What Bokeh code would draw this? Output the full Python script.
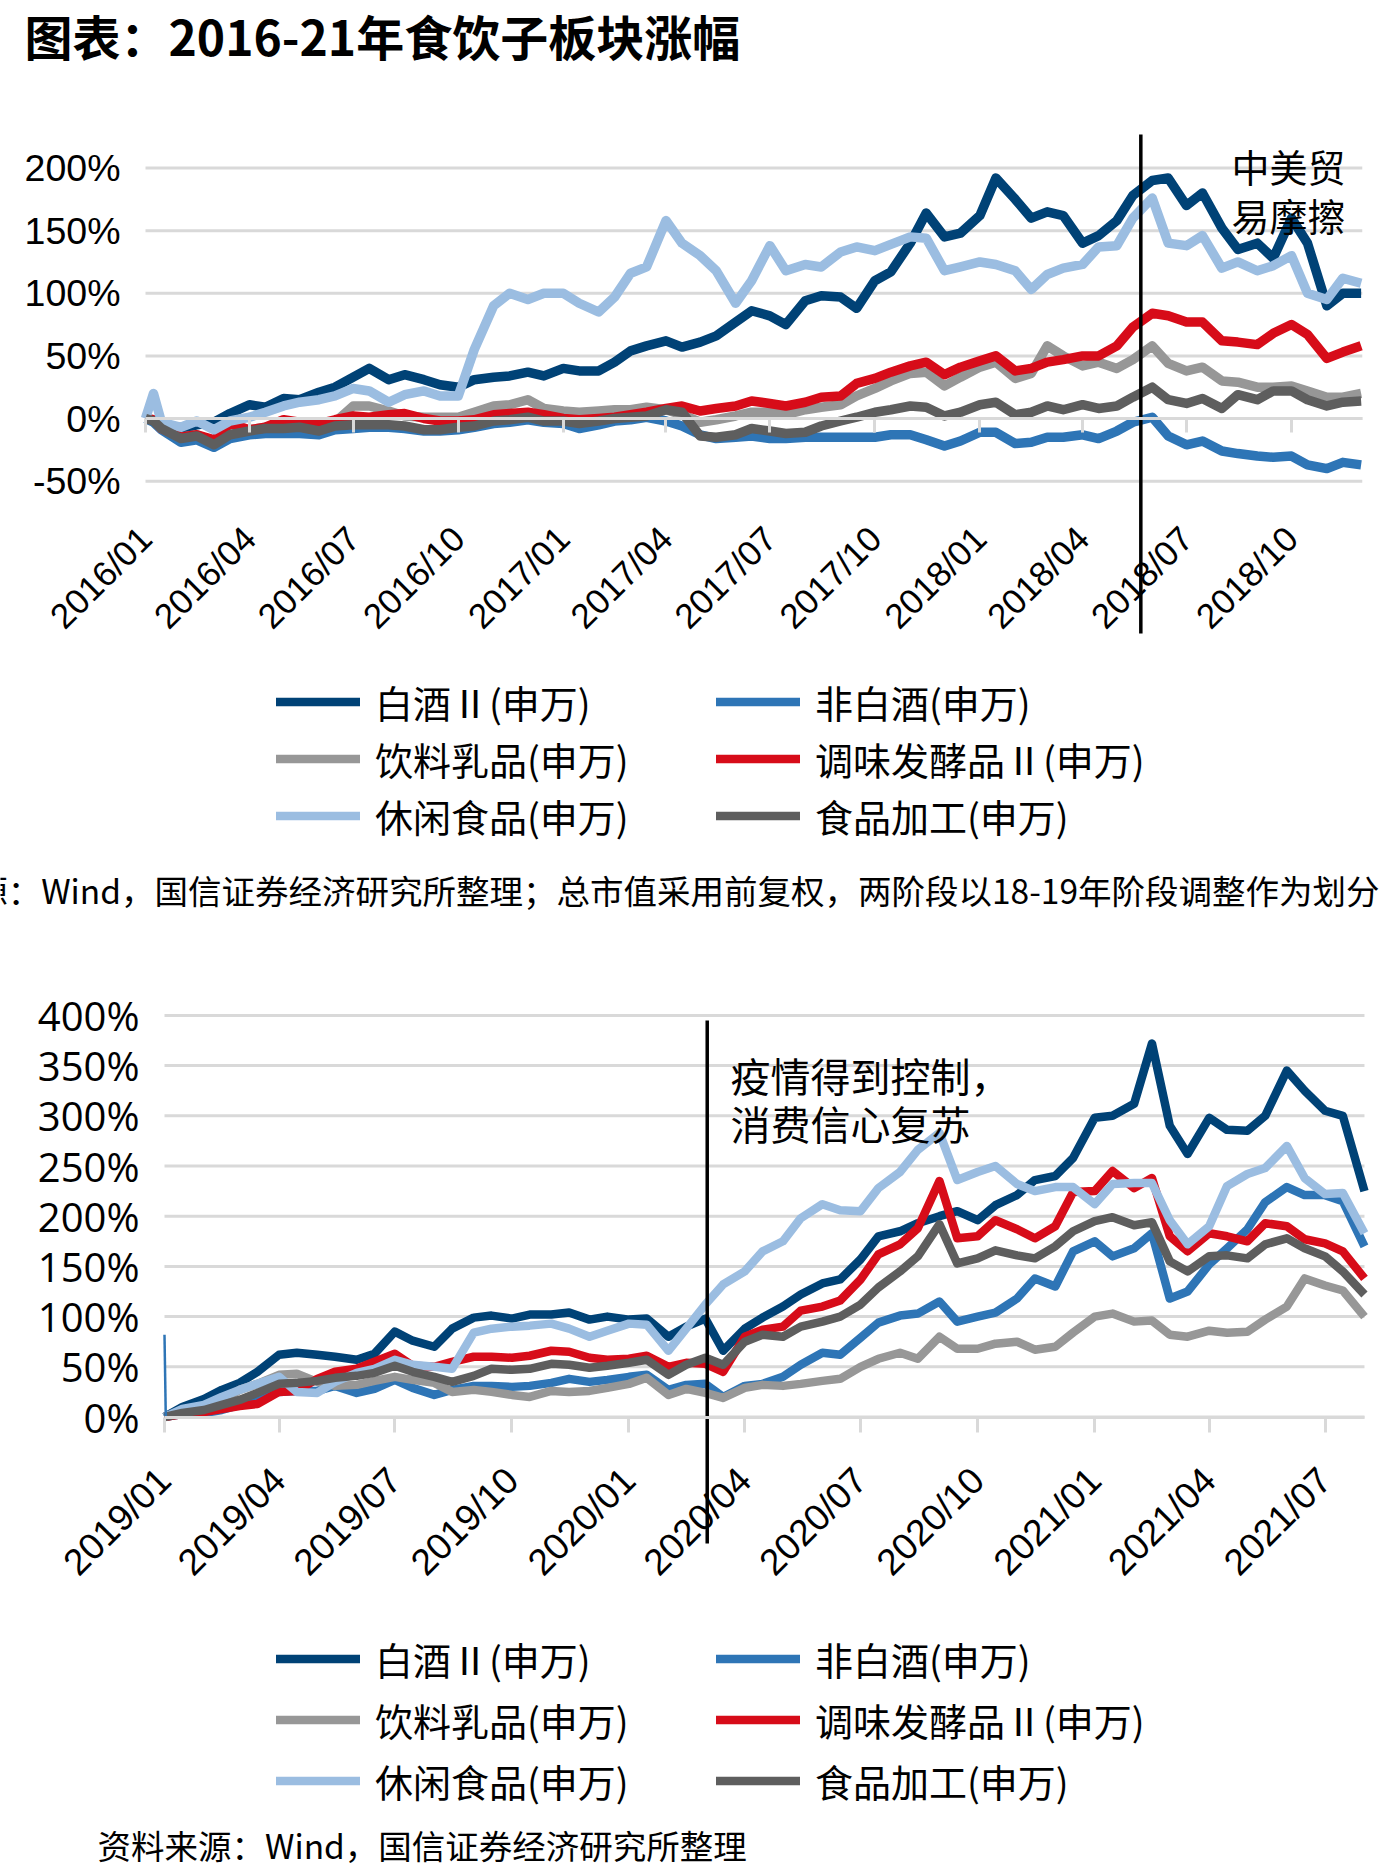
import math
import pandas as pd
from bokeh.plotting import figure
from bokeh.layouts import column
from bokeh.models import (FixedTicker, PrintfTickFormatter, DatetimeTickFormatter,
                          Label, Legend, Range1d)
from bokeh.embed import file_html
from bokeh.resources import INLINE

CJK = "Noto Sans CJK SC"
GRID = "#D9D9D9"
PAGE_W = 1385

series_names = ["白酒Ⅱ(申万)", "非白酒(申万)", "饮料乳品(申万)",
                "调味发酵品Ⅱ(申万)", "休闲食品(申万)", "食品加工(申万)"]
series_colors = ["#004276", "#2E75B6", "#979797", "#D70C19", "#9BBDE1", "#5E5E5E"]

# ---------------- 2016-2018: cumulative change (%), semi-monthly closes ----------------
dates_16 = pd.date_range("2016-01-01", "2018-12-01", freq="SMS").insert(1, pd.Timestamp("2016-01-08"))

baijiu_16 = [0, -2, -5, -9, -5, -3, 4, 11, 9, 16, 15, 21, 25, 33, 40, 31, 35, 31, 27, 25,
             31, 33, 34, 37, 34, 40, 38, 38, 45, 54, 58, 62, 57, 61, 66, 77, 86, 82, 75, 94,
             98, 97, 88, 110, 117, 140, 164, 145, 148, 162, 192, 175, 160, 165, 162, 140, 146, 158, 178, 190,
             192, 170, 180, 152, 135, 140, 128, 160, 140, 90, 100, 100]
fei_baijiu_16 = [0, -3, -9, -19, -17, -23, -16, -13, -12, -12, -12, -13, -9, -8, -7, -7, -8, -10, -10, -9,
                 -7, -4, -3, -1, -3, -4, -8, -5, -2, -1, 1, -2, -6, -13, -16, -15, -14, -16, -16, -15,
                 -15, -15, -15, -15, -13, -13, -17, -22, -18, -11, -11, -20, -19, -15, -15, -13, -16, -10, -3, 1,
                 -14, -21, -18, -26, -28, -30, -31, -30, -37, -40, -35, -37]
yinliao_16 = [0, -1, -8, -15, -13, -19, -12, -9, -7, -6, -6, -4, -3, 10, 10, 6, 2, 1, 1, 1,
              5, 10, 11, 15, 8, 6, 5, 6, 7, 7, 9, 7, 3, -3, -1, 2, 5, 5, 3, 7,
              9, 11, 18, 24, 30, 36, 37, 26, 33, 41, 45, 32, 36, 58, 50, 42, 45, 40, 47, 58,
              44, 38, 41, 30, 29, 25, 25, 26, 22, 17, 17, 20]
tiaowei_16 = [0, -1, -8, -15, -13, -17, -4, -9, -7, -1, -3, -4, -1, 2, 1, 3, 4, 0, -2, -2,
              -1, 3, 4, 5, 3, 0, -1, 0, 1, 3, 5, 8, 10, 6, 8, 10, 14, 12, 10, 13,
              17, 18, 28, 32, 37, 42, 45, 35, 41, 46, 50, 38, 40, 45, 47, 50, 50, 58, 73, 84,
              82, 77, 77, 62, 61, 59, 68, 75, 67, 48, 53, 58]
xiuxian_16 = [0, 20, -3, -7, -2, -9, -2, 1, 5, 10, 13, 15, 18, 24, 22, 13, 19, 22, 18, 18,
              55, 90, 100, 95, 100, 100, 92, 85, 97, 116, 121, 158, 140, 130, 118, 92, 110, 138, 118, 123,
              121, 133, 137, 134, 139, 145, 144, 118, 121, 125, 123, 118, 103, 115, 120, 123, 137, 138, 160, 176,
              140, 138, 146, 120, 125, 118, 122, 130, 100, 95, 112, 108]
jiagong_16 = [0, -2, -8, -16, -14, -21, -13, -10, -8, -8, -7, -10, -6, -5, -5, -5, -6, -9, -9, -7,
              -6, -2, -1, 1, -2, -2, -4, -2, 0, 1, 2, 7, 5, -14, -15, -13, -8, -10, -12, -11,
              -6, -2, 1, 5, 7, 10, 9, 2, 5, 11, 13, 3, 5, 10, 7, 11, 8, 10, 17, 25,
              15, 12, 16, 8, 19, 15, 22, 22, 15, 10, 13, 14]
series_16 = [baijiu_16, fei_baijiu_16, yinliao_16, tiaowei_16, xiuxian_16, jiagong_16]
trade_war_date = pd.Timestamp("2018-05-22")

# ---------------- 2019-2021 ----------------
dates_19 = pd.date_range("2019-01-01", "2021-08-01", freq="SMS")

baijiu_19 = [0, 10, 18, 27, 34, 45, 62, 64, 62, 60, 57, 63, 85, 76, 70, 88, 99, 101, 98, 102,
             102, 104, 97, 100, 97, 98, 80, 90, 98, 66, 88, 99, 110, 122, 133, 137, 157, 180, 185, 193,
             200, 205, 196, 211, 221, 236, 240, 258, 298, 300, 312, 372, 290, 262, 298, 286, 285, 300, 345, 325,
             305, 300, 225]
fei_baijiu_19 = [0, 3, 4, 7, 12, 20, 25, 26, 26, 31, 24, 28, 37, 29, 22, 27, 31, 31, 30, 31,
                 34, 38, 35, 37, 40, 42, 27, 32, 33, 20, 31, 33, 40, 52, 64, 62, 79, 94, 101, 103,
                 115, 95, 100, 104, 118, 138, 130, 165, 175, 160, 168, 183, 118, 125, 152, 168, 187, 214, 229, 221,
                 221, 215, 170]
yinliao_19 = [0, 4, 8, 16, 27, 33, 42, 43, 35, 31, 32, 36, 40, 37, 34, 25, 27, 25, 22, 20,
              26, 25, 26, 29, 33, 39, 22, 28, 24, 19, 29, 32, 31, 33, 36, 38, 50, 58, 64, 58,
              80, 68, 68, 73, 75, 67, 70, 84, 100, 103, 95, 96, 82, 80, 86, 84, 85, 97, 110, 138,
              131, 126, 100]
tiaowei_19 = [0, 3, 5, 8, 11, 13, 25, 26, 38, 45, 48, 55, 63, 51, 50, 55, 60, 60, 59, 61,
              66, 65, 59, 57, 58, 61, 50, 54, 53, 45, 80, 87, 90, 106, 110, 116, 137, 162, 172, 188,
              235, 178, 180, 196, 187, 178, 190, 224, 225, 245, 228, 238, 180, 165, 183, 180, 175, 193, 190, 177,
              173, 165, 138]
xiuxian_19 = [0, 8, 12, 20, 27, 33, 40, 25, 24, 35, 44, 48, 57, 52, 50, 48, 84, 88, 90, 91,
              93, 88, 80, 86, 93, 92, 66, 88, 112, 132, 145, 165, 175, 198, 212, 206, 205, 228, 244, 266,
              283, 236, 244, 250, 232, 225, 229, 229, 212, 232, 233, 233, 196, 172, 190, 230, 242, 248, 270, 238,
              222, 223, 183]
jiagong_19 = [0, 4, 7, 12, 17, 24, 33, 34, 36, 39, 41, 44, 51, 45, 40, 35, 41, 48, 47, 48,
              53, 52, 49, 51, 54, 57, 42, 52, 59, 52, 75, 82, 80, 90, 95, 100, 112, 129, 145, 160,
              192, 153, 158, 166, 161, 158, 170, 185, 195, 199, 191, 194, 155, 145, 160, 161, 158, 172, 178, 168,
              160, 145, 122]
series_19 = [baijiu_19, fei_baijiu_19, yinliao_19, tiaowei_19, xiuxian_19, jiagong_19]
# first-day print of the 非白酒 index before it resets to the base
fei_baijiu_19_open_dates = pd.to_datetime(["2019-01-01", "2019-01-02"])
fei_baijiu_19_open = [82, 1]
covid_control_date = pd.Timestamp("2020-03-02 12:00")

title_text = "图表：2016-21年食饮子板块涨幅"
note_16 = ["中美贸", "易摩擦"]
note_19 = ["疫情得到控制，", "消费信心复苏"]
source_16 = "资料来源：Wind，国信证券经济研究所整理；总市值采用前复权，两阶段以18-19年阶段调整作为划分"
source_19 = "资料来源：Wind，国信证券经济研究所整理"

yticks_16 = [-50, 0, 50, 100, 150, 200]
yticks_19 = [0, 50, 100, 150, 200, 250, 300, 350, 400]

ym = "%Y/%m"
date_fmt = DatetimeTickFormatter(microseconds=ym, milliseconds=ym, seconds=ym, minsec=ym,
                                 minutes=ym, hourmin=ym, hours=ym, days=ym, months=ym, years=ym)


def ms(ts):
    return pd.Timestamp(ts).value / 1e6


class Panel:
    """A figure whose frame fills the whole canvas; page pixels map linearly onto dates / percent."""

    def __init__(self, height, page_top, x_start, x_px, px_per_day, zero_py, px_per_pct):
        self.page_top = page_top
        self.height = height
        self.t0 = pd.Timestamp(x_start) - pd.Timedelta(days=x_px / px_per_day)
        self.ppd = px_per_day
        self.zero_py = zero_py
        self.ppp = px_per_pct
        self.p = figure(width=PAGE_W, height=height, x_axis_type="datetime",
                        x_range=Range1d(self.tx(0), self.tx(PAGE_W)),
                        y_range=Range1d(self.vy(page_top + height), self.vy(page_top)),
                        output_backend="svg", toolbar_location=None, min_border=0)
        self.p.outline_line_color = None
        self.p.grid.visible = False

    def tx(self, px):
        return self.t0 + pd.Timedelta(days=px / self.ppd)

    def vy(self, py):
        return (self.zero_py - py) / self.ppp

    def label(self, px, py, text, size, font=CJK, align="left", style="normal"):
        self.p.add_layout(Label(x=self.tx(px), y=self.vy(py), text=text, text_font=font,
                                text_font_size=size, text_font_style=style, text_align=align,
                                text_baseline="middle", text_color="black"))

    def legend(self, rows_top_py, spacing, item_h=55):
        proxies = [self.p.line([float("nan")], [float("nan")], line_color=c, line_width=8.5,
                               line_cap="round") for c in series_colors]
        bottom_py = rows_top_py + 3 * item_h + 2 * spacing
        for idx, x0 in (([0, 2, 4], 276), ([1, 3, 5], 716)):
            leg = Legend(items=[(series_names[i], [proxies[i]]) for i in idx],
                         location=(x0, self.page_top + self.height - bottom_py),
                         orientation="vertical", glyph_width=84, glyph_height=item_h,
                         label_height=item_h, label_standoff=15, spacing=spacing,
                         padding=0, margin=0, border_line_color=None, background_fill_alpha=0,
                         label_text_font=CJK, label_text_font_size="38px", label_text_color="black")
            self.p.add_layout(leg)


def draw_chart(pn, dates, series, x_first, x_last, xticks, yticks, x_size, x_standoff,
               tick_len, y_font, y_size, line_w):
    p = pn.p
    n = len(yticks)
    # horizontal gridlines across the plotted period
    p.segment(x0=[x_first] * n, y0=yticks, x1=[x_last] * n, y1=yticks,
              line_color=GRID, line_width=3)

    xa = p.xaxis[0]
    xa.fixed_location = 0
    xa.bounds = (ms(x_first), ms(x_last))
    xa.ticker = FixedTicker(ticks=xticks)
    xa.formatter = date_fmt
    xa.major_label_orientation = math.pi / 4
    xa.axis_line_color = GRID
    xa.axis_line_width = 3
    xa.major_tick_line_color = GRID
    xa.major_tick_line_width = 3
    xa.major_tick_in = 0
    xa.major_tick_out = tick_len
    xa.minor_tick_line_color = None
    xa.major_label_standoff = x_standoff
    xa.major_label_text_font = "Liberation Sans"
    xa.major_label_text_font_size = x_size
    xa.major_label_text_color = "black"

    ya = p.yaxis[0]
    ya.fixed_location = ms(x_first)
    ya.ticker = FixedTicker(ticks=yticks)
    ya.formatter = PrintfTickFormatter(format="%d%%")
    ya.axis_line_color = None
    ya.major_tick_line_color = None
    ya.minor_tick_line_color = None
    ya.major_label_standoff = 19
    ya.major_label_text_font = y_font
    ya.major_label_text_font_size = y_size
    ya.major_label_text_color = "black"

    for ys, color in zip(series, series_colors):
        p.line(dates, ys, line_color=color, line_width=line_w, line_join="round")


# ---- panel 1: title, 2016-2018 chart, legend, source (page y 0..930) ----
top = Panel(930, 0, "2016-01-01", 145, 1.14143, 418, 1.2525)
first16, last16 = pd.Timestamp("2016-01-01"), pd.Timestamp("2018-12-02")
ticks_16 = [ms(d) for d in pd.date_range("2016-01-01", "2018-10-01", freq="QS")]
draw_chart(top, dates_16, series_16, first16, last16, ticks_16, yticks_16,
           "35px", 100, 14, "Liberation Sans", "37.5px", 9.5)
top.p.segment(x0=[trade_war_date], y0=[top.vy(134)], x1=[trade_war_date], y1=[top.vy(633)],
              line_color="black", line_width=3.5)
top.label(1231, 165, note_16[0], "38px")
top.label(1231, 214, note_16[1], "38px")
top.label(24, 34, title_text, "48px", style="bold")
top.legend(674, 2)
top.label(1379, 889, source_16, "33.5px", align="right")

# ---- panel 2: 2019-2021 chart, legend, source (page y 930..1875) ----
bot = Panel(945, 930, "2019-01-01", 164, 1.2725, 1416.5, 1.004)
first19, last19 = pd.Timestamp("2019-01-01"), pd.Timestamp("2021-08-01")
ticks_19 = [ms(d) for d in pd.date_range("2019-01-01", "2021-07-01", freq="QS")]
draw_chart(bot, dates_19, series_19, first19, last19, ticks_19, yticks_19,
           "37px", 42, 15, "Open Sans", "40px", 8.5)
bot.p.line(fei_baijiu_19_open_dates, fei_baijiu_19_open, line_color=series_colors[1], line_width=2.5)
bot.p.segment(x0=[covid_control_date], y0=[bot.vy(1020)], x1=[covid_control_date], y1=[bot.vy(1543)],
              line_color="black", line_width=3.5)
bot.label(730, 1074, note_19[0], "40px")
bot.label(730, 1122, note_19[1], "40px")
bot.legend(1630.5, 6)
bot.label(97, 1844, source_19, "33.5px")

layout = column(top.p, bot.p, spacing=0)
open("out.html", "w").write(file_html(layout, INLINE))
